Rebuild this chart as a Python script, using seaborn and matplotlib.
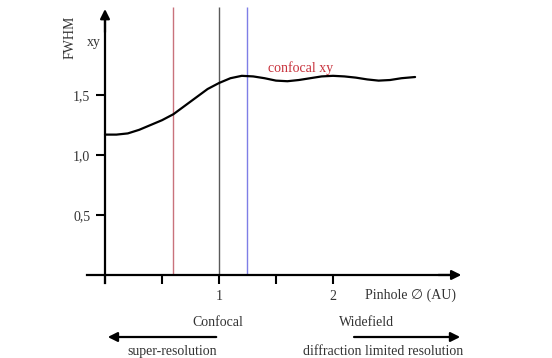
import matplotlib
matplotlib.use("Agg")
import matplotlib.pyplot as plt
import seaborn as sns
import pandas as pd

# FWHM (xy) vs pinhole diameter
pinhole_au = [0.0, 0.1, 0.2, 0.3, 0.4, 0.5, 0.6, 0.7, 0.8, 0.9, 1.0, 1.1, 1.2, 1.3,
              1.4, 1.5, 1.6, 1.7, 1.8, 1.9, 2.0, 2.1, 2.2, 2.3, 2.4, 2.5, 2.6, 2.72]
fwhm_xy = [1.17, 1.17, 1.18, 1.21, 1.25, 1.29, 1.34, 1.41, 1.48, 1.55, 1.60, 1.64, 1.66, 1.655,
           1.64, 1.62, 1.615, 1.625, 1.64, 1.655, 1.66, 1.655, 1.645, 1.63, 1.62, 1.625, 1.64, 1.65]
marker_pos = [0.6, 1.0, 1.25]
marker_colors = ["#c9727c", "#5a5a5a", "#7e7ee6"]
x_ticks = [0, 0.5, 1, 1.5, 2]
x_tick_labels = ["", "", "1", "", "2"]
y_ticks = [0.5, 1.0, 1.5]
y_tick_labels = ["0,5", "1,0", "1,5"]

sns.set_style("white")
fams = ["Liberation Serif", "DejaVu Serif", "DejaVu Sans"]
plt.rcParams["font.family"] = fams
plt.rcParams["font.size"] = 10

fig = plt.figure(figsize=(5.52, 3.58), dpi=100)
ax = fig.add_axes([0, 0, 1, 1])
ax.set_xlim(-0.921, 3.921)
ax.set_ylim(-0.692, 2.292)

df = pd.DataFrame({"pinhole": pinhole_au, "fwhm": fwhm_xy})
sns.lineplot(data=df, x="pinhole", y="fwhm", ax=ax, color="black", lw=1.6)
ax.vlines(marker_pos, 0, 2.23, colors=marker_colors, lw=1.0, zorder=1)

# axes through the origin with arrow heads
for s in ["top", "right"]:
    ax.spines[s].set_visible(False)
ax.spines["left"].set_position(("data", 0))
ax.spines["bottom"].set_position(("data", 0))
ax.spines["left"].set_bounds(-0.07, 2.15)
ax.spines["bottom"].set_bounds(-0.16, 3.05)
for s in ["left", "bottom"]:
    ax.spines[s].set_linewidth(1.6)
    ax.spines[s].set_color("black")
ax.annotate("", xy=(0, 2.24), xytext=(0, 2.0),
            arrowprops=dict(arrowstyle="-|>", lw=1.6, color="black", mutation_scale=14))
ax.annotate("", xy=(3.15, 0), xytext=(2.9, 0),
            arrowprops=dict(arrowstyle="-|>", lw=1.6, color="black", mutation_scale=14))

ax.set_xticks(x_ticks)
ax.set_xticklabels(x_tick_labels)
ax.set_yticks(y_ticks)
ax.set_yticklabels(y_tick_labels)
ax.tick_params(axis="both", direction="out", length=6.5, width=1.5, pad=4,
               colors="black", labelcolor="#333333", labelsize=10)
ax.tick_params(axis="x", bottom=True)
ax.tick_params(axis="y", left=True)
ax.set_xlabel("")
ax.set_ylabel("")

tc = "#333333"
ax.text(-0.307, 1.98, "FWHM", rotation=90, ha="center", va="center", color=tc)
ax.text(-0.096, 1.94, "xy", ha="center", va="center", color=tc)
ax.text(2.28, -0.167, "Pinhole \u2205 (AU)", ha="left", va="center", color=tc, family=fams)
ax.text(1.43, 1.725, "confocal xy", ha="left", va="center", color="#c8323c")
ax.text(0.99, -0.40, "Confocal", ha="center", va="center", color=tc)
ax.text(2.29, -0.40, "Widefield", ha="center", va="center", color=tc)
ax.text(0.59, -0.635, "super-resolution", ha="center", va="center", color=tc)
ax.text(2.44, -0.635, "diffraction limited resolution", ha="center", va="center", color=tc)

ax.annotate("", xy=(0.0, -0.517), xytext=(1.0, -0.517),
            arrowprops=dict(arrowstyle="-|>", lw=1.6, color="black", mutation_scale=14))
ax.annotate("", xy=(3.14, -0.517), xytext=(2.16, -0.517),
            arrowprops=dict(arrowstyle="-|>", lw=1.6, color="black", mutation_scale=14))

fig.savefig("out.png", dpi=100)
